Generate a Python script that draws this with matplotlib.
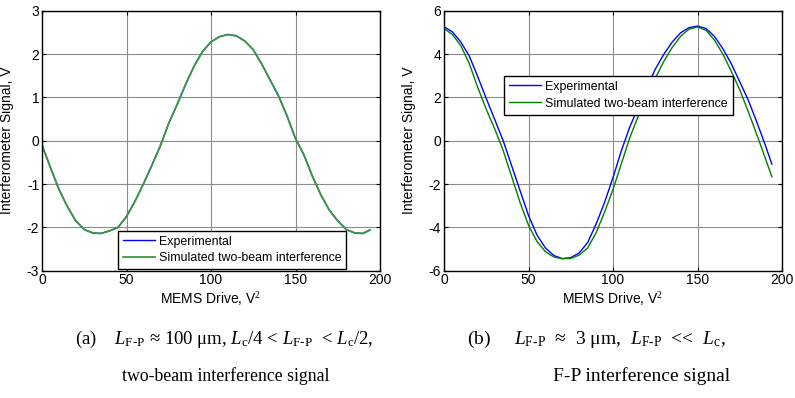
import matplotlib
matplotlib.use("Agg")
import matplotlib.pyplot as plt

# MEMS drive (V^2) sample points
drive = [0, 5, 10, 15, 20, 25, 30, 35, 40, 45, 50, 55, 60, 65, 70, 75, 80, 85, 90, 95,
         100, 105, 110, 115, 120, 125, 130, 135, 140, 145, 150, 155, 160, 165, 170, 175,
         180, 185, 190, 194]

# (a) two-beam case, experimental and simulated overlap
exp_a = [-0.10, -0.62, -1.12, -1.52, -1.85, -2.05, -2.13, -2.14, -2.08, -2.00,
         -1.75, -1.40, -1.00, -0.57, -0.12, 0.40, 0.84, 1.30, 1.72, 2.06,
         2.28, 2.40, 2.45, 2.42, 2.30, 2.10, 1.77, 1.40, 1.03, 0.57,
         0.05, -0.33, -0.82, -1.25, -1.60, -1.85, -2.05, -2.13, -2.14, -2.06]
sim_a = [-0.10, -0.62, -1.12, -1.52, -1.85, -2.05, -2.13, -2.14, -2.08, -2.00,
         -1.75, -1.40, -1.00, -0.57, -0.12, 0.40, 0.84, 1.30, 1.72, 2.06,
         2.28, 2.40, 2.45, 2.42, 2.30, 2.10, 1.77, 1.40, 1.03, 0.57,
         0.05, -0.33, -0.82, -1.25, -1.60, -1.85, -2.05, -2.13, -2.14, -2.06]

# (b) F-P case
exp_b = [5.26, 5.02, 4.55, 3.90, 2.95, 1.95, 0.98, 0.00, -1.15, -2.30,
         -3.45, -4.35, -4.95, -5.30, -5.44, -5.40, -5.18, -4.70, -3.85, -2.85,
         -1.70, -0.45, 0.65, 1.55, 2.45, 3.30, 3.98, 4.55, 4.98, 5.22,
         5.29, 5.18, 4.82, 4.25, 3.55, 2.72, 1.88, 0.88, -0.18, -1.08]
sim_b = [5.18, 4.90, 4.38, 3.55, 2.45, 1.45, 0.55, -0.45, -1.65, -2.85,
         -3.90, -4.65, -5.12, -5.37, -5.45, -5.43, -5.28, -4.95, -4.25, -3.30,
         -2.25, -1.05, 0.15, 1.15, 2.05, 2.88, 3.65, 4.30, 4.82, 5.15,
         5.25, 5.10, 4.65, 4.00, 3.20, 2.35, 1.35, 0.30, -0.78, -1.66]

labels = ["Experimental", "Simulated two-beam interference"]
xticks = [0, 50, 100, 150, 200]
yticks_a = [-3, -2, -1, 0, 1, 2, 3]
yticks_b = [-6, -4, -2, 0, 2, 4, 6]

plt.rcParams['font.family'] = ['Liberation Sans', 'DejaVu Sans']
plt.rcParams['axes.unicode_minus'] = False
plt.rcParams['mathtext.fontset'] = 'custom'
plt.rcParams['mathtext.rm'] = 'Liberation Serif'
plt.rcParams['mathtext.it'] = 'Liberation Serif:italic'
tick_fontsize = 10
legend_fontsize = 8.9

fig = plt.figure(figsize=(7.95, 3.98), dpi=100)
W, H = 795.0, 398.0


def make_axes(left_px):
	return fig.add_axes([left_px / W, 1 - 270.7 / H, 338 / W, 260 / H])


def style(ax, yticks, ylim):
	ax.set_xlim(0, 200)
	ax.set_ylim(*ylim)
	ax.set_xticks(xticks)
	ax.set_yticks(yticks)
	ax.grid(True, color='#8c8c8c', lw=0.8)
	ax.set_axisbelow(True)
	ax.tick_params(direction='in', top=True, right=True, length=3, width=0.8,
		labelsize=tick_fontsize, pad=2)
	for s in ax.spines.values():
		s.set_linewidth(1.0)
		s.set_color('black')
	ax.set_xlabel("MEMS Drive, V$^2$", fontsize=10)
	ax.xaxis.set_label_coords(0.5, -0.075)
	ax.set_ylabel("Interferometer Signal, V", fontsize=10)
	ax.yaxis.set_label_coords(-0.083, 0.5)


def add_legend(ax, loc, anchor):
	leg = ax.legend(loc=loc, bbox_to_anchor=anchor, fontsize=legend_fontsize,
		fancybox=False, edgecolor='black', framealpha=1, handlelength=2.6,
		borderpad=0.4, labelspacing=0.4, handletextpad=0.3, borderaxespad=0)
	leg.get_frame().set_linewidth(1.0)


ax1 = make_axes(42)
ax1.plot(drive, exp_a, color='#0000ff', lw=1.0, label=labels[0])
ax1.plot(drive, sim_a, color='#3c9a3c', lw=1.3, label=labels[1])
style(ax1, yticks_a, (-3, 3))
add_legend(ax1, 'lower left', (0.225, 0.005))

ax2 = make_axes(444)
ax2.plot(drive, exp_b, color='#0000ff', lw=1.0, label=labels[0])
ax2.plot(drive, sim_b, color='#008000', lw=1.0, label=labels[1])
style(ax2, yticks_b, (-6, 6))
add_legend(ax2, 'upper left', (0.178, 0.75))

# captions
serif = ['Liberation Serif', 'DejaVu Serif']
cap = dict(fontsize=13.5, family=serif, va='center')
LFP = r"$L_{\mathrm{F\text{-}P}}$"
Lc = r"$L_{\mathrm{c}}$"
fig.text(75 / W, 1 - 339 / H, "(a)    " + LFP + " ≈ 100 μm, " + Lc + "/4 < " + LFP + "  < " + Lc + "/2,", **cap)
fig.text(226 / W, 1 - 376 / H, "two-beam interference signal", fontsize=12.8, family=serif,
	va='center', ha='center')
fig.text(467 / W, 1 - 339 / H, "(b)     " + LFP + "  ≈  3 μm,  " + LFP + "  <<  " + Lc + ",",
	fontsize=14, family=serif, va='center')
fig.text(642 / W, 1 - 376 / H, "F-P interference signal", fontsize=14, family=serif,
	va='center', ha='center')

fig.savefig("out.png", dpi=100)
